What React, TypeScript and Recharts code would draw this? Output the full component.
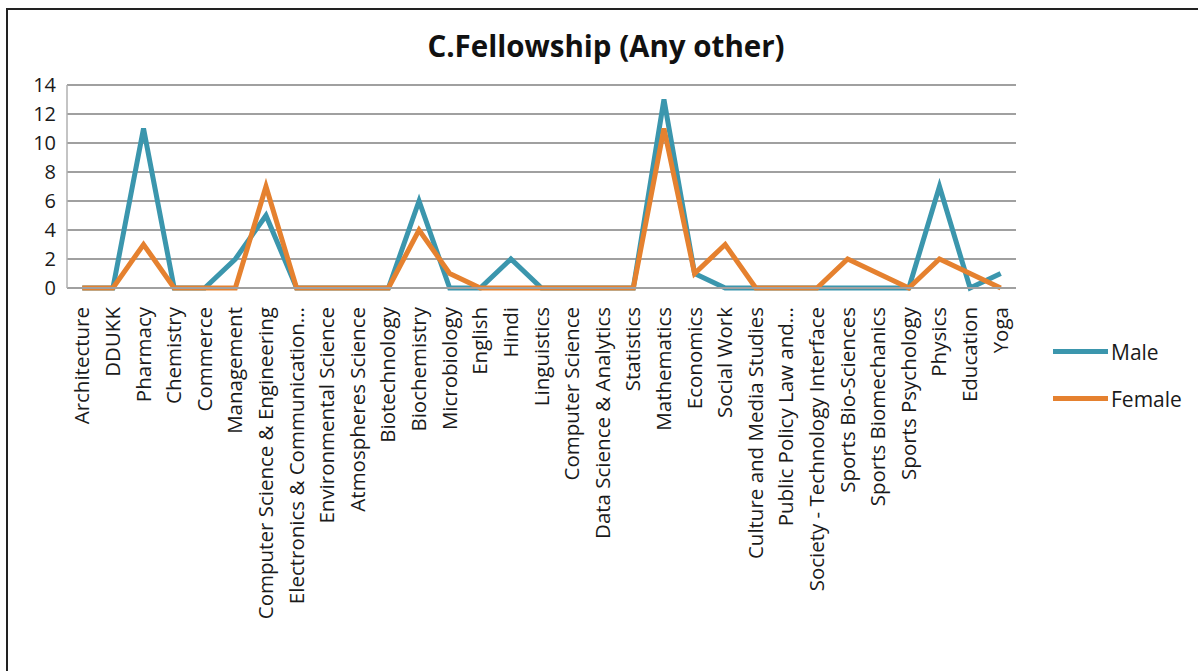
import React from "react";
import { LineChart, Line, XAxis, YAxis, CartesianGrid } from "recharts";

const categories = [
  "Architecture", "DDUKK", "Pharmacy", "Chemistry", "Commerce", "Management",
  "Computer Science & Engineering", "Electronics & Communication...", "Environmental Science",
  "Atmospheres Science", "Biotechnology", "Biochemistry", "Microbiology", "English", "Hindi",
  "Linguistics", "Computer Science", "Data Science & Analytics", "Statistics", "Mathematics",
  "Economics", "Social Work", "Culture and Media Studies", "Public Policy Law and...",
  "Society - Technology Interface", "Sports Bio-Sciences", "Sports Biomechanics",
  "Sports Psychology", "Physics", "Education", "Yoga",
];
const maleValues = [0, 0, 11, 0, 0, 2, 5, 0, 0, 0, 0, 6, 0, 0, 2, 0, 0, 0, 0, 13, 1, 0, 0, 0, 0, 0, 0, 0, 7, 0, 1];
const femaleValues = [0, 0, 3, 0, 0, 0, 7, 0, 0, 0, 0, 4, 1, 0, 0, 0, 0, 0, 0, 11, 1, 3, 0, 0, 0, 2, 1, 0, 2, 1, 0];
const yTicks = [0, 2, 4, 6, 8, 10, 12, 14];
const seriesNames = ["Male", "Female"];

const data = categories.map((c, i) => ({ name: c, Male: maleValues[i], Female: femaleValues[i] }));

const MALE = "#3b96ad";
const FEMALE = "#e5812f";
const COLORS = [MALE, FEMALE];
const FONT = "'Open Sans', sans-serif";

const XTick = (props: any) => {
  const { x, y, payload } = props;
  return (
    <text
      x={x + 7}
      y={y + 11}
      transform={`rotate(-90 ${x + 7} ${y + 11})`}
      textAnchor="end"
      fontSize={20.5}
      fontFamily={FONT}
      fill="#1a1a1a"
    >
      {payload.value}
    </text>
  );
};

const YTick = (props: any) => {
  const { x, y, payload } = props;
  return (
    <text x={x - 3} y={y + 7} textAnchor="end" fontSize={20} fontFamily={FONT} fill="#1a1a1a">
      {payload.value}
    </text>
  );
};

export default function App() {
  return (
    <div style={{ position: "absolute", left: 0, top: 0, width: 1198, height: 671, overflow: "hidden", background: "#fff" }}>
      <div
        style={{
          position: "absolute",
          left: 6,
          top: 8,
          width: 1220,
          height: 700,
          border: "2px solid #222",
          boxSizing: "border-box",
        }}
      />
      <div
        style={{
          position: "absolute",
          left: 0,
          top: 25,
          width: 1212,
          textAlign: "center",
          fontFamily: FONT,
          fontWeight: 700,
          fontSize: 29.5,
          color: "#111",
        }}
      >
        C.Fellowship (Any other)
      </div>
      <div style={{ position: "absolute", left: 0, top: 0 }}>
        <LineChart
          width={1198}
          height={671}
          data={data}
          margin={{ top: 85, right: 182, left: 17, bottom: 43 }}
        >
          <CartesianGrid horizontal vertical={false} stroke="#a0a0a0" strokeWidth={2} />
          <XAxis
            dataKey="name"
            interval={0}
            tick={<XTick />}
            tickLine={false}
            axisLine={{ stroke: "#a0a0a0", strokeWidth: 2 }}
            height={340}
            padding={{ left: 15.3, right: 15.3 }}
          />
          <YAxis
            domain={[0, 14]}
            ticks={yTicks}
            interval={0}
            width={50}
            tick={<YTick />}
            tickLine={false}
            axisLine={{ stroke: "#b0b0b0", strokeWidth: 1.5 }}
          />
          <Line
            type="linear"
            dataKey="Male"
            stroke={MALE}
            strokeWidth={5}
            dot={false}
            activeDot={false}
            isAnimationActive={false}
          />
          <Line
            type="linear"
            dataKey="Female"
            stroke={FEMALE}
            strokeWidth={5}
            dot={false}
            activeDot={false}
            isAnimationActive={false}
          />
        </LineChart>
      </div>
      <div style={{ position: "absolute", left: 1053, top: 328, fontFamily: FONT }}>
        {seriesNames.map((s, i) => (
          <div key={s} style={{ display: "flex", alignItems: "center", height: 47 }}>
            <div style={{ width: 55, height: 5, background: COLORS[i], marginRight: 3 }} />
            <span style={{ fontSize: 21, color: "#1a1a1a" }}>{s}</span>
          </div>
        ))}
      </div>
    </div>
  );
}
